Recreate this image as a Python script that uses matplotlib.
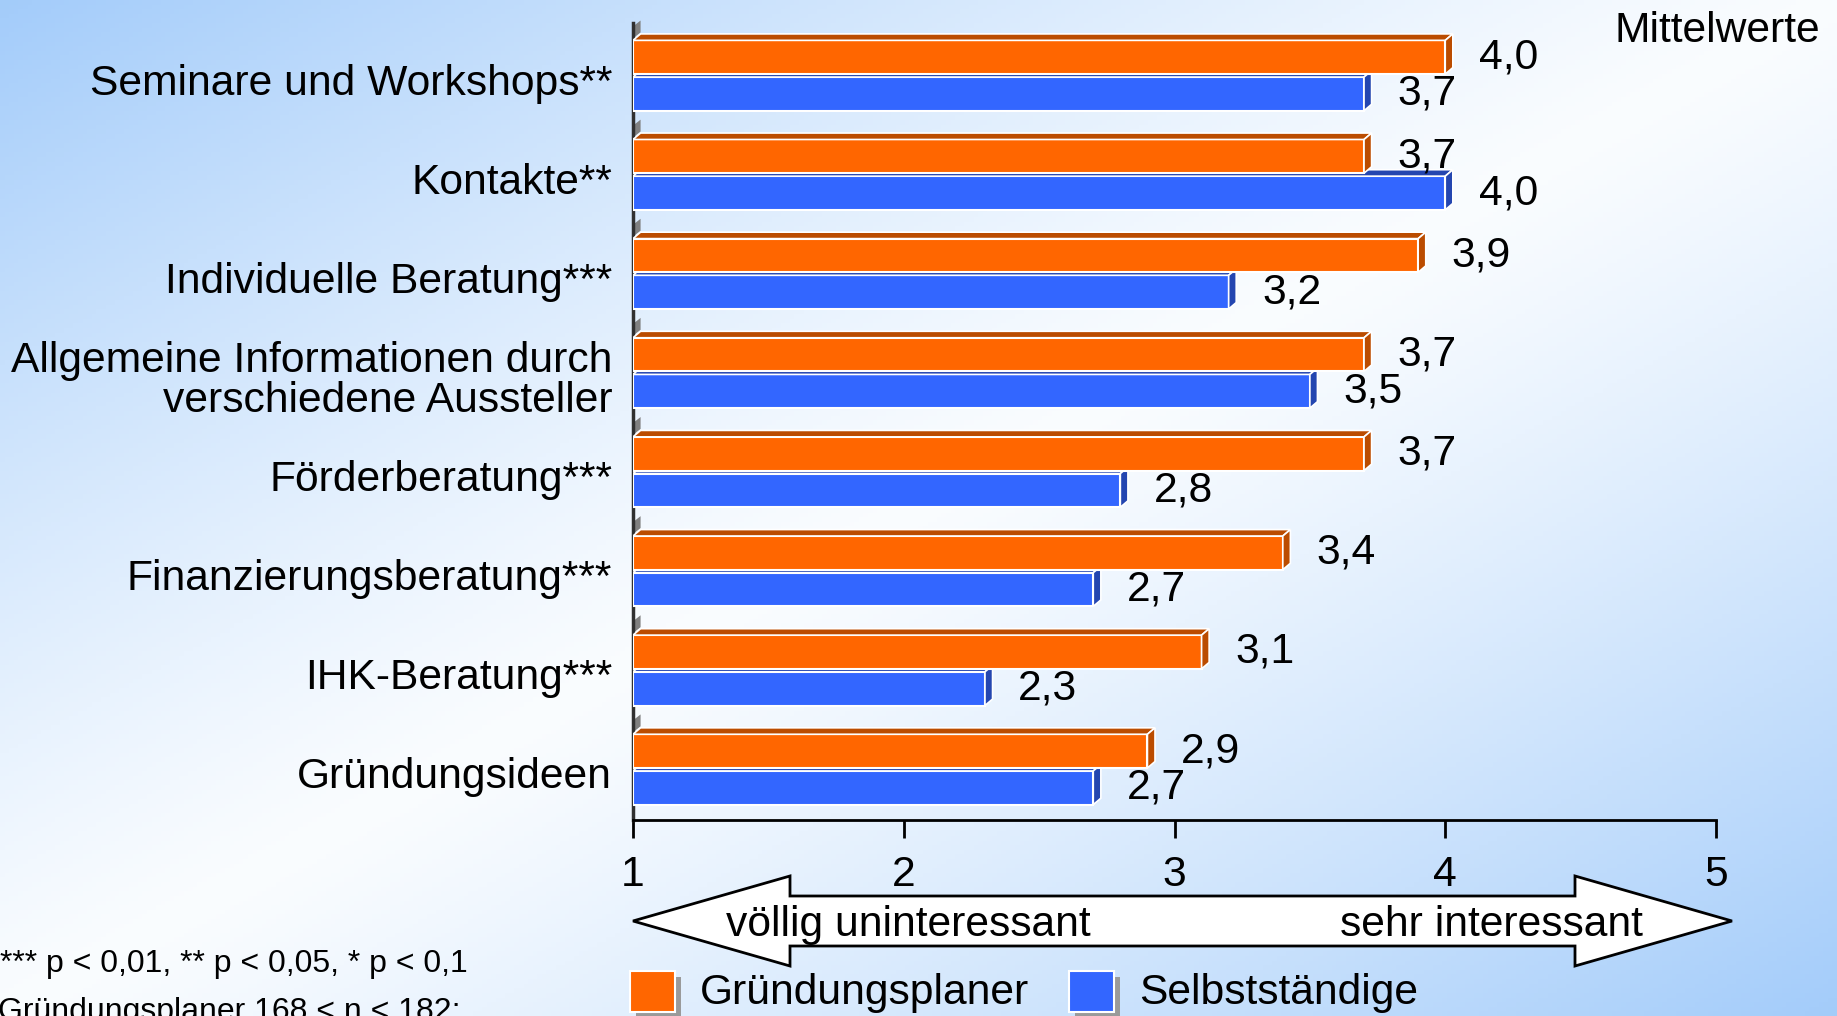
import numpy as np
import matplotlib.pyplot as plt
from matplotlib.patches import Polygon, Rectangle

plt.rcParams['font.family'] = ['Liberation Sans', 'DejaVu Sans']

# mean ratings per offer (scale 1 = völlig uninteressant ... 5 = sehr interessant)
categories = ['Seminare und Workshops**', 'Kontakte**', 'Individuelle Beratung***',
              'Allgemeine Informationen durch\nverschiedene Aussteller', 'Förderberatung***',
              'Finanzierungsberatung***', 'IHK-Beratung***', 'Gründungsideen']
planer = [4.0, 3.7, 3.9, 3.7, 3.7, 3.4, 3.1, 2.9]
selbst = [3.7, 4.0, 3.2, 3.5, 2.8, 2.7, 2.3, 2.7]
xticks = [1, 2, 3, 4, 5]
series_names = ['Gründungsplaner', 'Selbstständige']

FS = 30.7
W, H = 1837, 1016
fig = plt.figure(figsize=(W / 100, H / 100), dpi=100)

# background: blue in top-left and bottom-right corners, white along the other diagonal
bg = fig.add_axes([0, 0, 1, 1], zorder=-10)
gx, gy = np.meshgrid(np.linspace(0, 1, 400), np.linspace(0, 1, 220))
t = np.abs((gx + gy) / 2 - 0.5) * 2
t = t ** 1.2
c_edge = np.array([0.64, 0.80, 0.98])
c_mid = np.array([0.98, 0.99, 1.0])
img = c_mid[None, None, :] * (1 - t[..., None]) + c_edge[None, None, :] * t[..., None]
bg.imshow(img, aspect='auto', extent=[0, 1, 0, 1], origin='upper')
bg.axis('off')

ax = fig.add_axes([633 / W, 1 - 820 / H, (1716 - 633) / W, (820 - 23) / H])
ax.set_facecolor('none')

n = len(categories)
pos = np.arange(n)[::-1]
h = 0.34
dx, dy = 0.028, 0.065

orange, orange_dk = '#ff6600', '#bb4c00'
blue, blue_dk = '#3366ff', '#2446b0'


def bar3d(y0, v, front, dark):
    # front face
    ax.add_patch(Rectangle((1, y0), v - 1, h, facecolor=front, edgecolor='white', lw=1.5, zorder=3))
    # top face
    ax.add_patch(Polygon([(1, y0 + h), (v, y0 + h), (v + dx, y0 + h + dy), (1 + dx, y0 + h + dy)],
                         closed=True, facecolor=dark, edgecolor='white', lw=1.2, zorder=3))
    # right side face
    ax.add_patch(Polygon([(v, y0), (v, y0 + h), (v + dx, y0 + h + dy), (v + dx, y0 + dy)],
                         closed=True, facecolor=dark, edgecolor='white', lw=1.2, zorder=3))


for p, a, b in zip(pos, planer, selbst):
    bar3d(p - 0.35, b, blue, blue_dk)
    bar3d(p + 0.02, a, orange, orange_dk)
    # grey wall edge at the left end of each group
    ax.add_patch(Polygon([(1, p + 0.38), (1 + dx, p + 0.44), (1 + dx, p + 0.56), (1, p + 0.50)],
                         closed=True, facecolor='#808080', edgecolor='none', zorder=2, clip_on=False))
    ax.annotate(f'{a:.1f}'.replace('.', ','), (a, p + 0.02 + h / 2), xytext=(24, 0),
                textcoords='offset points', ha='left', va='center', fontsize=FS, zorder=5)
    ax.annotate(f'{b:.1f}'.replace('.', ','), (b, p - 0.35 + h / 2), xytext=(24, 0),
                textcoords='offset points', ha='left', va='center', fontsize=FS, zorder=5)

ax.set_xlim(1, 5)
ax.set_ylim(-0.505, 7.535)
ax.set_xticks(xticks)
ax.set_xticklabels([str(x) for x in xticks], fontsize=FS)
ax.set_yticks(pos - 0.03)
ax.set_yticklabels(categories, fontsize=FS, linespacing=1.0)
ax.tick_params(axis='y', length=0, pad=15)
ax.tick_params(axis='x', length=13, width=2, direction='out', pad=12)
for s in ['top', 'right']:
    ax.spines[s].set_visible(False)
ax.spines['bottom'].set_linewidth(2)
ax.spines['left'].set_linewidth(2.5)
ax.spines['left'].set_color('#303030')

# overlay in pixel coordinates for arrow, legend and notes
ov = fig.add_axes([0, 0, 1, 1], zorder=5)
ov.set_xlim(0, W)
ov.set_ylim(H, 0)
ov.axis('off')

arrow = [(633, 921), (790, 876), (790, 896), (1575, 896), (1575, 876), (1732, 921),
         (1575, 966), (1575, 946), (790, 946), (790, 966)]
ov.add_patch(Polygon(arrow, closed=True, facecolor='white', edgecolor='black', lw=2))
ov.text(726, 936, 'völlig uninteressant', fontsize=FS, ha='left', va='baseline')
ov.text(1643, 936, 'sehr interessant', fontsize=FS, ha='right', va='baseline')

ov.text(1820, 42, 'Mittelwerte', fontsize=FS, ha='right', va='baseline')

for x0, col, name in [(630, orange, series_names[0]), (1069, blue, series_names[1])]:
    ov.add_patch(Rectangle((x0 + 6, 977), 45, 41, facecolor='#9a9a9a', edgecolor='none'))
    ov.add_patch(Rectangle((x0, 971), 45, 41, facecolor=col, edgecolor='white', lw=1.5))
    ov.text(x0 + 70, 1004, name, fontsize=FS, ha='left', va='baseline')

ov.text(0, 972, '*** p < 0,01, ** p < 0,05, * p < 0,1', fontsize=23, ha='left', va='baseline')
ov.text(-2, 1020, 'Gründungsplaner 168 < n < 182;', fontsize=23, ha='left', va='baseline')

fig.savefig('out.png', dpi=100)
